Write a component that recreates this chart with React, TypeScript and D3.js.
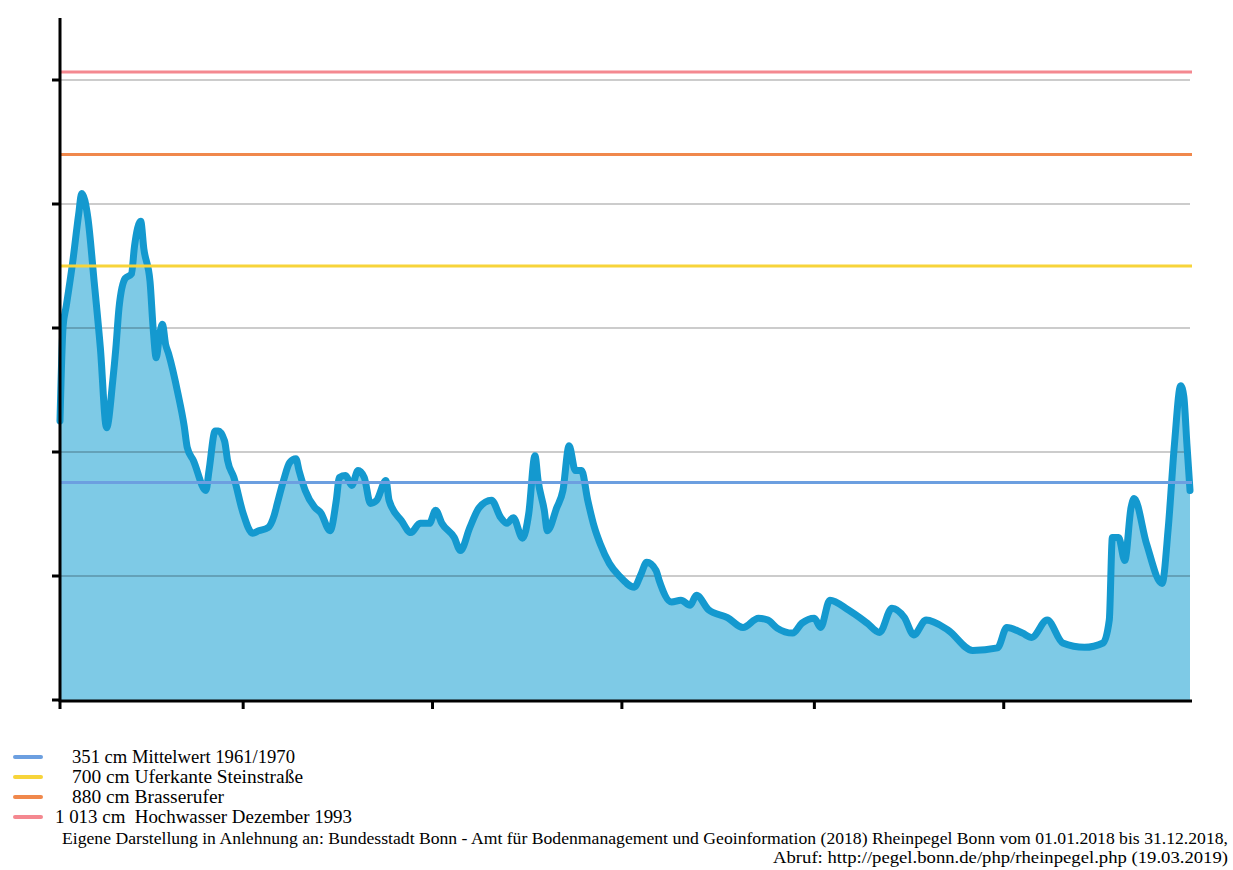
import React from "react";
import * as d3 from "d3";

// Rhine level Bonn 2018 (day of year, 0 = 01.01.2018) and level in cm
const days = [0,1,2,4,6,7,9,11,13,15,17,18,19,21,23,24,26,27,29,30,31,32,33,34,35,38,40,41,43,47,48,50,51,53,54,56,59,62,64,67,69,70,72,74,76,77,79,82,84,87,89,90,92,94,96,98,100,102,105,106,110,113,116,119,121,123,127,129,132,135,139,142,144,146,149,151,153,154,156,157,160,162,164,166,168,170,172,174,177,180,185,187,189,192,193,197,200,203,205,209,215,220,225,228,231,236,239,243,245,248,254,260,264,268,272,275,279,286,294,302,305,310,313,318,323,330,336,338,339,341,343,345,346,350,355,357,359,361,362,363,364];
const levels = [450,603,635,703,783,817,777,675,568,439,515,568,632,680,687,732,772,728,675,600,552,587,606,574,558,494,442,407,386,338,370,434,434,418,386,359,301,269,273,278,298,317,354,383,389,370,338,311,302,273,322,359,362,346,370,359,317,322,354,322,289,270,285,285,306,285,262,241,278,310,322,294,285,294,261,301,394,354,306,273,310,338,410,370,370,322,281,252,220,201,182,201,222,209,193,158,161,153,169,145,133,117,132,129,116,108,124,132,117,161,145,124,109,148,133,105,129,113,80,84,117,108,101,129,92,85,92,129,262,262,225,310,325,252,188,278,413,507,490,413,338];

const yTicks = [0, 200, 400, 600, 800, 1000];
const xTickDates = ["2018-01-01", "2018-03-01", "2018-05-01", "2018-07-01", "2018-09-01", "2018-11-01"];

const refValues = [351, 700, 880, 1013];
const refColors = ["#6c9fe0", "#f7d43a", "#f0884c", "#f48890"];
const refLabels = ["351 cm Mittelwert 1961/1970", "700 cm Uferkante Steinstraße", "880 cm Brasserufer", "1 013 cm  Hochwasser Dezember 1993"];

const sourceLine1 = "Eigene Darstellung in Anlehnung an: Bundesstadt Bonn - Amt für Bodenmanagement und Geoinformation (2018) Rheinpegel Bonn vom 01.01.2018 bis 31.12.2018,";
const sourceLine2 = "Abruf: http://pegel.bonn.de/php/rheinpegel.php (19.03.2019)";

export default function App() {
  const parse = d3.timeParse("%Y-%m-%d");
  const start = parse("2018-01-01")!;
  const end = parse("2018-12-31")!;
  const x = d3.scaleTime().domain([start, end]).range([60, 1190]);
  const y = d3.scaleLinear().domain([0, 1100]).range([700, 18]);

  const pts = days.map((d, i) => ({ date: d3.timeDay.offset(start, d), v: levels[i] }));
  const area = d3.area<any>().curve(d3.curveMonotoneX).x((p) => x(p.date)).y0(y(0)).y1((p) => y(p.v));
  const line = d3.line<any>().curve(d3.curveMonotoneX).x((p) => x(p.date)).y((p) => y(p.v));

  const serifStyle = { fontFamily: "Liberation Serif, Times New Roman, serif", whiteSpace: "pre" as const };
  const legendBase = [763, 783, 803, 823];
  const legendX = [72, 72, 72, 55];
  const legendW = [223, 231, 152, 297];

  return (
    <svg width={1233} height={870} style={{ position: "absolute", left: 0, top: 0, background: "#fff" }}>
      <path d={area(pts) || ""} fill="#7ecae6" />
      {yTicks.slice(1).map((t) => (
        <line key={"g" + t} x1={60} x2={1190} y1={y(t)} y2={y(t)} stroke="#000" strokeOpacity={0.2} strokeWidth={2} />
      ))}
      <path d={line(pts) || ""} fill="none" stroke="#1499cf" strokeWidth={7} strokeLinejoin="round" strokeLinecap="round" />
      {refValues.map((v, i) => (
        <line key={"r" + v} x1={60} x2={1192} y1={y(v)} y2={y(v)} stroke={refColors[i]} strokeWidth={3} />
      ))}
      {/* axes */}
      <line x1={60} x2={60} y1={18} y2={702} stroke="#000" strokeWidth={3} />
      <line x1={59} x2={1192} y1={701} y2={701} stroke="#000" strokeWidth={3} />
      {yTicks.map((t) => (
        <line key={"yt" + t} x1={52} x2={60} y1={y(t)} y2={y(t)} stroke="#000" strokeWidth={3} />
      ))}
      {xTickDates.map((s) => {
        const xx = x(parse(s)!);
        return <line key={"xt" + s} x1={xx} x2={xx} y1={701} y2={709} stroke="#000" strokeWidth={3} />;
      })}
      {/* legend */}
      {refValues.map((v, i) => (
        <g key={"l" + v}>
          <line x1={15} x2={41} y1={legendBase[i] - 6} y2={legendBase[i] - 6} stroke={refColors[i]} strokeWidth={4} strokeLinecap="round" />
          <text x={legendX[i]} y={legendBase[i]} fontSize={18} fill="#000" style={serifStyle} textLength={legendW[i]} lengthAdjust="spacingAndGlyphs">
            {refLabels[i]}
          </text>
        </g>
      ))}
      <text x={62} y={844} fontSize={17} fill="#000" style={serifStyle} textLength={1166} lengthAdjust="spacingAndGlyphs">
        {sourceLine1}
      </text>
      <text x={773} y={863} fontSize={17} fill="#000" style={serifStyle} textLength={455} lengthAdjust="spacingAndGlyphs">
        {sourceLine2}
      </text>
    </svg>
  );
}
